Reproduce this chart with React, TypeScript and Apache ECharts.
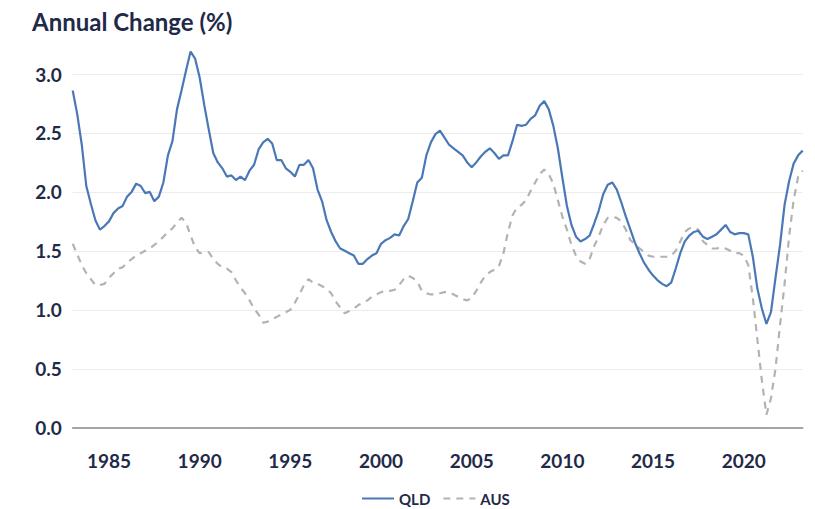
import React, { useEffect, useRef } from "react";
import * as echarts from "echarts";

// Quarterly observations, first quarter = 1983.00, step = one quarter
const START_YEAR = 1983;
const QUARTERS_PER_YEAR = 4;

const qld: number[] = [
  2.86, 2.66, 2.40, 2.05,
  1.90, 1.76, 1.68, 1.71,
  1.75, 1.82, 1.86, 1.88,
  1.96, 2.00, 2.07, 2.05,
  1.99, 2.00, 1.92, 1.96,
  2.08, 2.31, 2.43, 2.70,
  2.86, 3.03, 3.19, 3.13,
  2.97, 2.74, 2.53, 2.33,
  2.25, 2.20, 2.13, 2.14,
  2.10, 2.13, 2.10, 2.18,
  2.23, 2.36, 2.42, 2.45,
  2.41, 2.27, 2.27, 2.20,
  2.17, 2.13, 2.23, 2.23,
  2.27, 2.20, 2.02, 1.92,
  1.76, 1.66, 1.58, 1.52,
  1.50, 1.48, 1.46, 1.39,
  1.39, 1.43, 1.46, 1.48,
  1.56, 1.59, 1.61, 1.64,
  1.63, 1.71, 1.77, 1.92,
  2.08, 2.12, 2.31, 2.42,
  2.49, 2.52, 2.46, 2.40,
  2.37, 2.34, 2.31, 2.25,
  2.21, 2.25, 2.30, 2.34,
  2.37, 2.33, 2.28, 2.31,
  2.31, 2.43, 2.57, 2.56,
  2.57, 2.62, 2.65, 2.73,
  2.77, 2.70, 2.56, 2.37,
  2.12, 1.88, 1.72, 1.62,
  1.58, 1.60, 1.63, 1.73,
  1.84, 1.98, 2.06, 2.08,
  2.02, 1.91, 1.79, 1.68,
  1.57, 1.48, 1.40, 1.34,
  1.29, 1.25, 1.22, 1.20,
  1.23, 1.35, 1.48, 1.58,
  1.63, 1.66, 1.67, 1.62,
  1.60, 1.62, 1.64, 1.68,
  1.72, 1.66, 1.64, 1.65,
  1.65, 1.64, 1.45, 1.18,
  1.01, 0.88, 0.98, 1.27,
  1.55, 1.89, 2.09, 2.24,
  2.31, 2.35,
];

const aus: number[] = [
  1.56, 1.47, 1.38, 1.31,
  1.26, 1.21, 1.21, 1.22,
  1.27, 1.31, 1.35, 1.36,
  1.40, 1.43, 1.46, 1.48,
  1.50, 1.52, 1.55, 1.58,
  1.62, 1.66, 1.69, 1.74,
  1.78, 1.74, 1.63, 1.53,
  1.48, 1.49, 1.49, 1.43,
  1.39, 1.36, 1.35, 1.32,
  1.25, 1.19, 1.14, 1.08,
  1.01, 0.96, 0.89, 0.90,
  0.92, 0.94, 0.96, 0.98,
  1.00, 1.06, 1.13, 1.21,
  1.26, 1.23, 1.22, 1.20,
  1.18, 1.14, 1.07, 1.02,
  0.97, 0.99, 1.01, 1.04,
  1.06, 1.08, 1.11, 1.13,
  1.15, 1.16, 1.16, 1.17,
  1.21, 1.26, 1.29, 1.27,
  1.24, 1.16, 1.14, 1.13,
  1.13, 1.14, 1.15, 1.15,
  1.13, 1.11, 1.09, 1.08,
  1.10, 1.16, 1.23, 1.29,
  1.32, 1.34, 1.37, 1.48,
  1.66, 1.80, 1.87, 1.89,
  1.93, 2.01, 2.08, 2.15,
  2.19, 2.15, 2.07, 1.93,
  1.79, 1.68, 1.55, 1.46,
  1.41, 1.39, 1.43, 1.54,
  1.62, 1.72, 1.78, 1.79,
  1.78, 1.75, 1.68, 1.59,
  1.56, 1.52, 1.49, 1.46,
  1.45, 1.45, 1.45, 1.45,
  1.46, 1.50, 1.58, 1.66,
  1.69, 1.70, 1.68, 1.58,
  1.55, 1.52, 1.52, 1.53,
  1.52, 1.50, 1.48, 1.48,
  1.46, 1.38, 1.10, 0.75,
  0.40, 0.11, 0.25, 0.50,
  0.87, 1.22, 1.62, 1.93,
  2.13, 2.18,
];

const seriesNames = ["QLD", "AUS"];
const yTicks = [0, 0.5, 1.0, 1.5, 2.0, 2.5, 3.0];
const xLabelYears = [1985, 1990, 1995, 2000, 2005, 2010, 2015, 2020];

const toPairs = (vals: number[]) =>
  vals.map((v, i) => [START_YEAR + i / QUARTERS_PER_YEAR, v]);

const TEXT = "#1f2a48";
const FONT = "Lato";

export default function App() {
  const ref = useRef<HTMLDivElement>(null);
  useEffect(() => {
    document.body.style.margin = "0";
    if (!ref.current) return;
    const chart = echarts.init(ref.current, null, { renderer: "svg" });
    const lastX = START_YEAR + (qld.length - 1) / QUARTERS_PER_YEAR;
    chart.setOption({
      animation: false,
      backgroundColor: "#ffffff",
      textStyle: { fontFamily: FONT },
      title: {
        text: "Annual Change (%)",
        left: 27,
        top: 4,
        textStyle: { color: TEXT, fontSize: 24, fontWeight: "bold", fontFamily: FONT },
      },
      grid: { left: 72.7, right: 12.3, top: 74, bottom: 81.3, containLabel: false },
      legend: {
        data: seriesNames,
        left: 356,
        top: 486,
        itemWidth: 32,
        itemHeight: 14,
        itemGap: 12,
        itemStyle: { opacity: 0 },
        textStyle: { color: TEXT, fontSize: 15, fontWeight: "bold", fontFamily: FONT },
      },
      xAxis: {
        type: "value",
        min: START_YEAR,
        max: lastX,
        interval: 1,
        axisLine: { show: true, lineStyle: { color: "#8a8a8a", width: 1.5 } },
        axisTick: { show: false },
        splitLine: { show: false },
        axisLabel: {
          margin: 23,
          color: TEXT,
          fontSize: 19,
          fontWeight: "bold",
          fontFamily: FONT,
          formatter: (v: number) => (xLabelYears.includes(v) ? String(v) : ""),
        },
      },
      yAxis: {
        type: "value",
        min: yTicks[0],
        max: yTicks[yTicks.length - 1],
        interval: 0.5,
        axisLine: { show: false },
        axisTick: { show: false },
        splitLine: { show: true, lineStyle: { color: "#ececec", width: 1 } },
        axisLabel: {
          margin: 11,
          color: TEXT,
          fontSize: 19,
          fontWeight: "bold",
          fontFamily: FONT,
          formatter: (v: number) => v.toFixed(1),
        },
      },
      series: [
        {
          name: seriesNames[0],
          type: "line",
          data: toPairs(qld),
          symbol: "none",
          clip: false,
          z: 3,
          itemStyle: { color: "#4a78b7" },
          lineStyle: { color: "#4a78b7", width: 2.2 },
        },
        {
          name: seriesNames[1],
          type: "line",
          data: toPairs(aus),
          symbol: "none",
          clip: false,
          z: 2,
          itemStyle: { color: "#b3b3b3" },
          lineStyle: { color: "#b3b3b3", width: 2.2, type: [7, 6] },
        },
      ],
    });
    return () => chart.dispose();
  }, []);
  return <div ref={ref} style={{ width: 815, height: 509 }} />;
}
